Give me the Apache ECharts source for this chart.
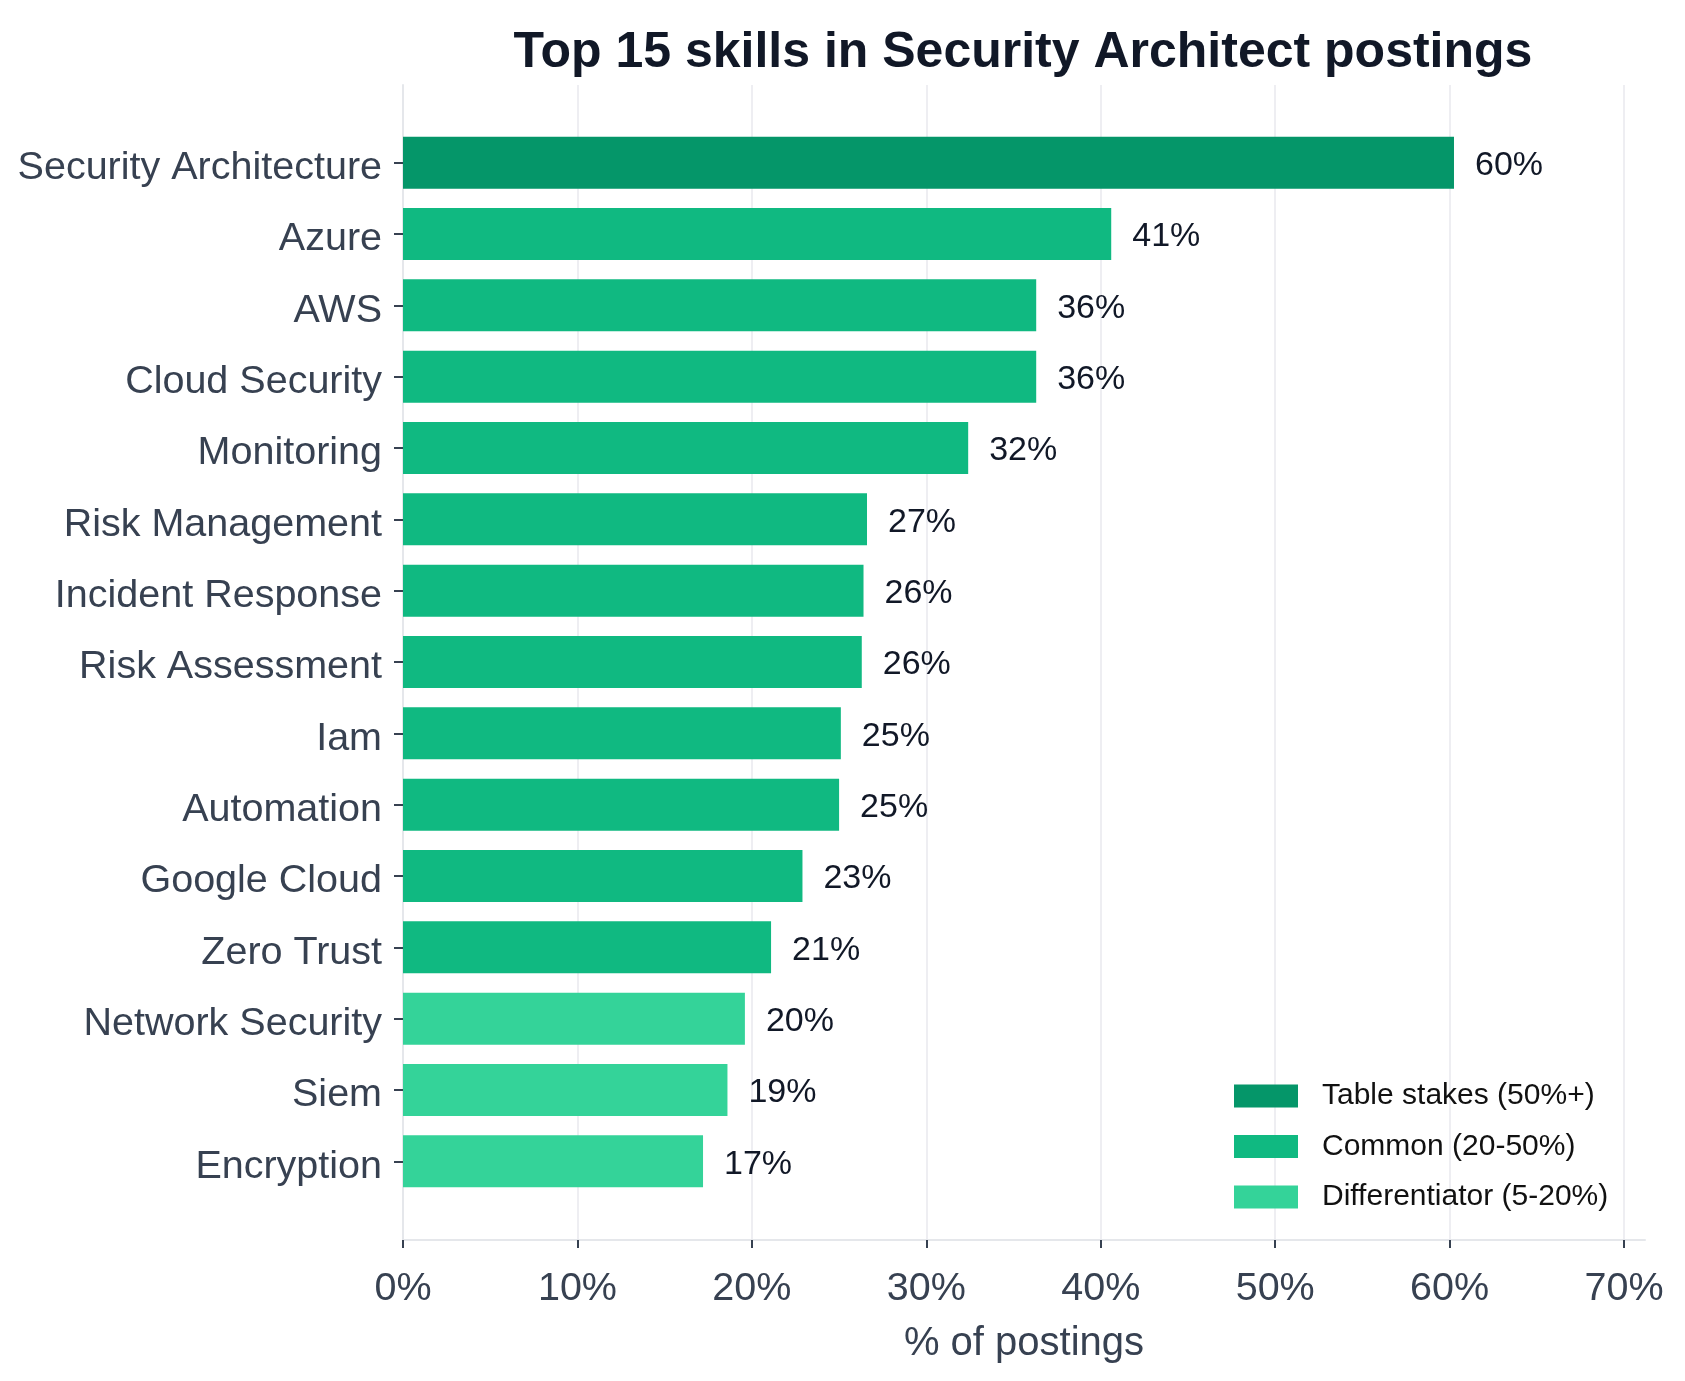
<!DOCTYPE html>
<html>
<head>
<meta charset="utf-8">
<title>Top 15 skills in Security Architect postings</title>
<style>
html, body { margin: 0; padding: 0; background: #fff; }
#chart { width: 1685px; height: 1381px; }
</style>
</head>
<body>
<div id="chart"></div>
<script src="https://cdn.jsdelivr.net/npm/echarts@6/dist/echarts.min.js"></script>
<script>
// share of postings (%) per skill, top to bottom
var skills = ['Security Architecture', 'Azure', 'AWS', 'Cloud Security', 'Monitoring',
    'Risk Management', 'Incident Response', 'Risk Assessment', 'Iam', 'Automation',
    'Google Cloud', 'Zero Trust', 'Network Security', 'Siem', 'Encryption'];
var shares = [60.25, 40.6, 36.3, 36.3, 32.4, 26.6, 26.4, 26.3, 25.1, 25.0, 22.9, 21.1, 19.6, 18.6, 17.2];
var xTicks = [0, 10, 20, 30, 40, 50, 60, 70];
var tierNames = ['Table stakes (50%+)', 'Common (20-50%)', 'Differentiator (5-20%)'];
var tierColors = ['#059669', '#10b981', '#34d399'];

function tierOf(v) {
    if (v >= 50) return 0;
    if (v >= 20) return 1;
    return 2;
}

var series = tierNames.map(function (name, t) {
    return {
        name: name,
        type: 'bar',
        stack: 'skill',
        xAxisIndex: 1,
        yAxisIndex: 1,
        barWidth: 52,
        itemStyle: { color: tierColors[t] },
        label: {
            show: true,
            position: 'right',
            distance: 21,
            offset: [0, 3],
            fontSize: 34,
            color: '#111827',
            formatter: function (p) { return Math.round(p.value) + '%'; }
        },
        data: shares.map(function (v) { return tierOf(v) === t ? v : '-'; })
    };
});

var chart = echarts.init(document.getElementById('chart'));
chart.setOption({
    animation: false,
    backgroundColor: '#ffffff',
    textStyle: { fontFamily: 'Liberation Sans, Arial, Helvetica, sans-serif' },
    title: {
        text: 'Top 15 skills in Security Architect postings',
        left: 1023,
        top: 28,
        textAlign: 'center',
        padding: 0,
        textStyle: { fontSize: 50, fontWeight: 'bold', color: '#111827' }
    },
    legend: {
        orient: 'vertical',
        left: 1234,
        top: 1081,
        padding: 0,
        itemWidth: 64,
        itemHeight: 23,
        itemGap: 20.5,
        icon: 'rect',
        data: tierNames,
        textStyle: { fontSize: 30, color: '#111111', padding: [0, 0, 0, 19] }
    },
    grid: [
        { left: 403, right: 40, top: 85, bottom: 141 },
        { left: 403, right: 40, top: 127, bottom: 184 }
    ],
    xAxis: [
        {
            type: 'value',
            gridIndex: 0,
            min: 0,
            max: 71.2,
            axisLine: { show: true, onZero: false, lineStyle: { color: '#e5e7eb', width: 2 } },
            axisTick: { show: true, customValues: xTicks, length: 8, lineStyle: { color: '#374151', width: 2 } },
            axisLabel: {
                customValues: xTicks,
                fontSize: 39.5,
                color: '#374151',
                margin: 29,
                formatter: function (v) { return v + '%'; }
            },
            splitLine: { show: true, lineStyle: { color: '#eeeef2', width: 2 } },
            name: '% of postings',
            nameLocation: 'middle',
            nameGap: 84,
            nameTextStyle: { fontSize: 40, color: '#374151' }
        },
        { type: 'value', gridIndex: 1, min: 0, max: 71.2, show: false }
    ],
    yAxis: [
        {
            type: 'value',
            gridIndex: 0,
            min: 0,
            max: 1,
            axisLine: { show: true, onZero: false, lineStyle: { color: '#e5e7eb', width: 2 } },
            axisTick: { show: false },
            axisLabel: { show: false },
            splitLine: { show: false }
        },
        {
            type: 'category',
            gridIndex: 1,
            data: skills,
            inverse: true,
            axisLine: { show: false },
            axisTick: { show: true, alignWithLabel: true, length: 9, lineStyle: { color: '#374151', width: 2 } },
            axisLabel: { fontSize: 39.5, color: '#374151', margin: 21, verticalAlign: 'top', lineHeight: 11 },
            splitLine: { show: false }
        }
    ],
    series: series
});
</script>
</body>
</html>
